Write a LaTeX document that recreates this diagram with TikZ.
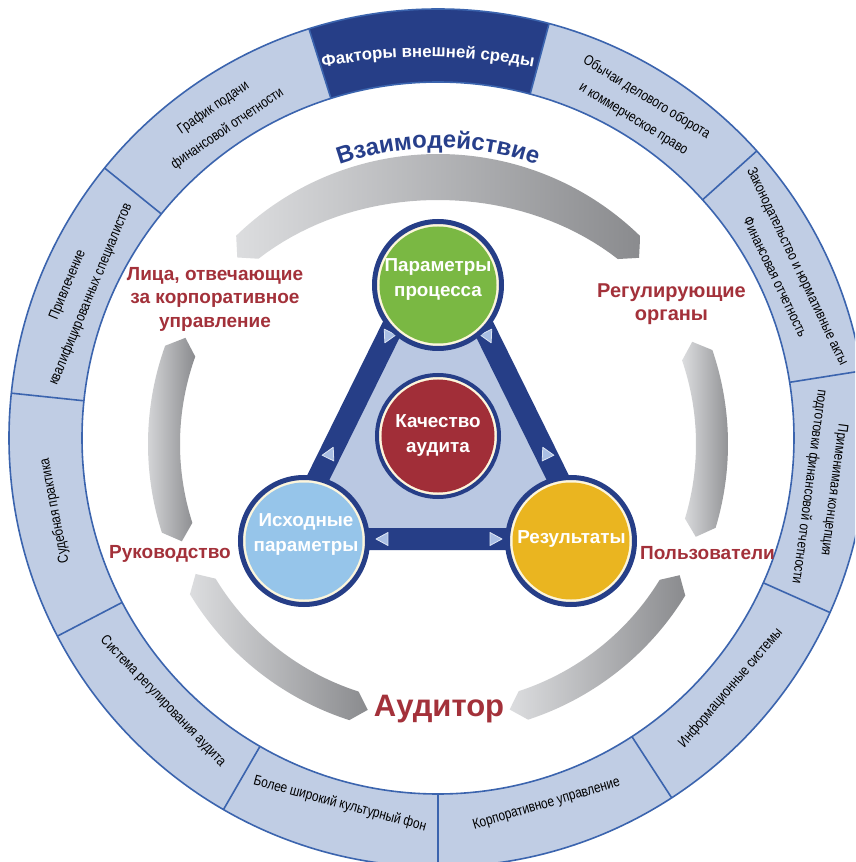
\documentclass[tikz,border=0pt]{standalone}
\usepackage{fontspec}
\setmainfont{Liberation Sans}
\newfontfamily\narrowfont[FakeStretch=0.82]{Liberation Sans}
\usetikzlibrary{calc,decorations.text}

\definecolor{ringfill}{RGB}{192,205,228}
\definecolor{ringline}{RGB}{59,100,174}
\definecolor{navy}{RGB}{38,62,135}
\definecolor{trifill}{RGB}{186,200,226}
\definecolor{cgreen}{RGB}{122,184,67}
\definecolor{cred}{RGB}{161,46,56}
\definecolor{cblue}{RGB}{150,197,234}
\definecolor{cyellow}{RGB}{234,181,32}
\definecolor{cream}{RGB}{253,246,220}
\definecolor{labelred}{RGB}{163,49,58}
\definecolor{labelblue}{RGB}{39,63,139}
\definecolor{markfill}{RGB}{169,190,227}
\definecolor{markline}{RGB}{222,230,244}
\definecolor{grayL}{RGB}{220,221,223}
\definecolor{grayD}{RGB}{138,139,142}

\newcommand\grayband[5]{%
  \pgfmathsetmacro\gA{#1+3}%
  \pgfmathsetmacro\gB{#2-3}%
  \pgfmathsetmacro\gM{(#3+#4)/2}%
  \shade[left color=grayL, right color=grayD]
    (#1:\gM pt) -- (\gA:#4pt) arc[start angle=\gA, end angle=\gB, radius=#4pt]
    -- (#2:\gM pt)
    -- plot[domain=\gB:\gA, samples=41] (\x:{#3-#5*sin((\x-\gA)/(\gB-\gA)*180)})
    -- cycle;}

\newcommand\tmarker[2]{%
  \filldraw[fill=markfill, draw=markline, line width=0.8pt, line join=round,
    shift={(#1)}, rotate=#2] (7,0) -- (-5,6.5) -- (-5,-6.5) -- cycle;}

\begin{document}
\begin{tikzpicture}[x=1pt,y=1pt,
  ringtxt/.style={font=\narrowfont\fontsize{14.5}{25}\selectfont, align=center, inner sep=0pt},
  lbl/.style={font=\bfseries\fontsize{19}{23.5}\selectfont, text=labelred, align=center, inner sep=0pt},
  ctxt/.style={font=\bfseries\fontsize{18.8}{25}\selectfont, text=white, align=center, inner sep=0pt},
  bigcirc/.style={circle, draw=navy, line width=5pt, fill=cream, minimum size=127pt, inner sep=0pt}]

\useasboundingbox (-438,-424) rectangle (417,438);
\clip (-438,-424) rectangle (417,438);
\fill[white] (-438,-424) rectangle (417,438);

% ---- outer ring ----
\fill[ringfill, even odd rule] (0,0) circle (429pt) (0,0) circle (356pt);
\fill[navy] (75:356pt) arc[start angle=75, end angle=107.5, radius=356pt]
  -- (107.5:429pt) arc[start angle=107.5, end angle=75, radius=429pt] -- cycle;
\draw[ringline, line width=1.6pt] (0,0) circle (429pt) (0,0) circle (356pt);
\foreach \a in {75,107.5,141,174,207.5,240,270,303,336,9,42}
  \draw[ringline, line width=1.6pt] (\a:356pt) -- (\a:429pt);

\path[decorate, decoration={text along path, text align=center, text color=white,
  text={|\bfseries\fontsize{16.8}{16.8}\selectfont|Факторы внешней среды}}]
  (-10,-169) ++(105:550pt) arc[start angle=105, end angle=75, radius=550pt];

\node[ringtxt, rotate=-31.5] (s1) at (58.5:386.5pt) {Обычаи делового оборота\\и коммерческое право};
\node[ringtxt, rotate=-64.5] (s2) at (25.5:386.5pt) {Законодательство и нормативные акты\\Финансовая отчетность};
\node[ringtxt, rotate=-97.5] (s3) at (-7.5:386.5pt) {Применимая концепция\\подготовки финансовой отчетности};
\node[ringtxt, rotate=49.5] (s4) at (-40.5:385pt) {Информационные системы};
\node[ringtxt, rotate=16.5] (s5) at (-73.5:382pt) {Корпоративное управление};
\node[ringtxt, rotate=-15] (s6) at (-105:379pt) {Более широкий культурный фон};
\node[ringtxt, rotate=-46.25] (s7) at (-136.25:381pt) {Система регулирования аудита};
\node[ringtxt, rotate=100.75] (s8) at (190.75:390pt) {Судебная практика};
\node[ringtxt, rotate=67.5] (s9) at (157.5:388pt) {Привлечение\\квалифицированных специалистов};
\node[ringtxt, rotate=34.25] (s10) at (124.25:386.5pt) {График подачи\\финансовой отчетности};

% ---- gray arcs ----
\begin{scope}[shift={(0,-6)}]
  \grayband{42.8}{137.1}{258}{290}{14}
  \grayband{157.2}{200.8}{258}{290}{0}
  \grayband{208.2}{255.2}{260}{290}{0}
  \grayband{285.1}{331.5}{260}{290}{0}
  \grayband{340.2}{381.9}{258}{290}{0}
  \path[decorate, decoration={text along path, text align=center, text color=labelblue,
    text={|\bfseries\fontsize{24}{24}\selectfont|Взаимодействие}}]
    (125:296pt) arc[start angle=125, end angle=55, radius=296pt];
\end{scope}

% ---- labels ----
\node[lbl] (lica) at (-223,139) {Лица, отвечающие\\за корпоративное\\управление};
\node[lbl, font=\bfseries\fontsize{20}{23}\selectfont] (reg) at (233.5,134) {Регулирующие\\органы};
\node[lbl] (ruk) at (-268,-116) {Руководство};
\node[lbl] (polz) at (269.5,-115) {Пользователи};
\node[font=\bfseries\fontsize{31}{31}\selectfont, text=labelred, inner sep=0pt] (aud) at (1,-271) {Аудитор};

% ---- triangle ----
\coordinate (tA) at (0,203);
\coordinate (tB) at (-150,-101);
\coordinate (tC) at (150,-101);
\filldraw[fill=trifill, draw=navy, line width=22pt, line join=round] (tA) -- (tB) -- (tC) -- cycle;

\coordinate (mL1) at ($(tA)!0.334!(tB)$);
\coordinate (mL2) at ($(tA)!0.719!(tB)$);
\coordinate (mR1) at ($(tA)!0.334!(tC)$);
\coordinate (mR2) at ($(tA)!0.719!(tC)$);
\coordinate (mB1) at (-55,-101);
\coordinate (mB2) at (57,-101);
\tmarker{mL1}{243.97}
\tmarker{mL2}{63.97}
\tmarker{mR1}{-63.97}
\tmarker{mR2}{116.03}
\tmarker{mB1}{180}
\tmarker{mB2}{0}

% ---- circles ----
\node[bigcirc] (ctop) at (0,153) {};
\fill[cgreen] (ctop.center) circle (58.5pt);
\node[bigcirc] (cbl) at (-134,-103) {};
\fill[cblue] (cbl.center) circle (58.5pt);
\node[bigcirc] (cbr) at (133,-103) {};
\fill[cyellow] (cbr.center) circle (58.5pt);
\node[circle, draw=navy, line width=4pt, fill=cream, minimum size=122pt, inner sep=0pt] (cmid) at (0,2) {};
\fill[cred] (cmid.center) circle (56.5pt);

\node[ctxt] (ttop) at (0,159) {Параметры\\процесса};
\node[ctxt] (tmid) at (0,3) {Качество\\аудита};
\node[ctxt] (tbl) at (-132,-96) {Исходные\\параметры};
\node[ctxt] (tbr) at (133.5,-101) {Результаты};

\end{tikzpicture}
\end{document}
